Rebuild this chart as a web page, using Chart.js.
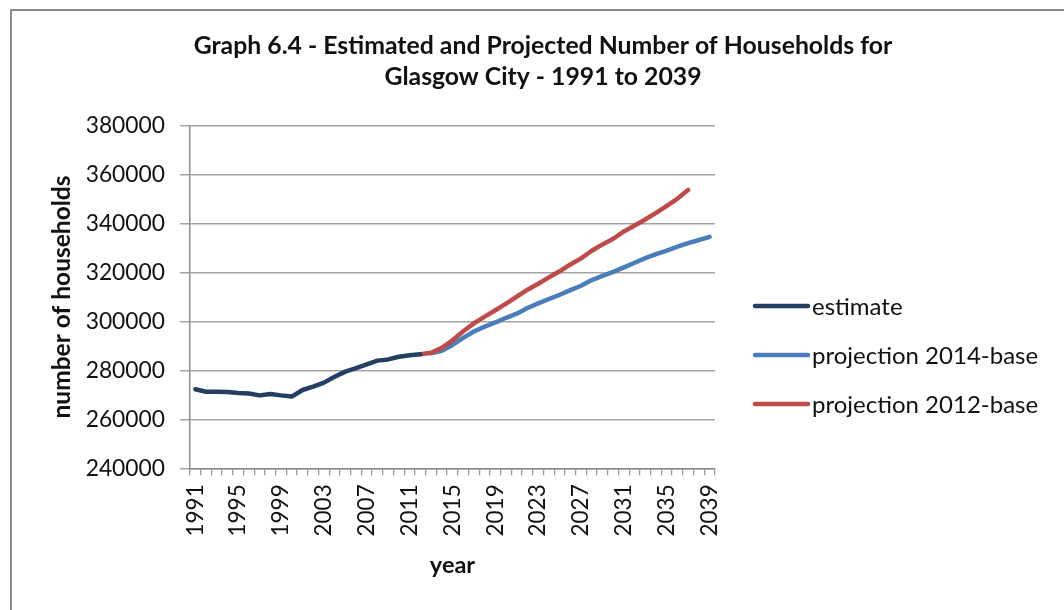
<!DOCTYPE html>
<html>
<head>
<meta charset="utf-8">
<script src="https://cdn.jsdelivr.net/npm/chart.js@4.4.1/dist/chart.umd.min.js"></script>
<style>
  html, body { margin: 0; padding: 0; background: #fff; overflow: hidden; }
  #frame {
    position: absolute; left: 10px; top: 9px;
    width: 1062px; height: 599px;
    border-left: 2px solid #8a8a8a; border-top: 2px solid #8a8a8a;
  }
  #frame canvas { display: block; }
</style>
</head>
<body>
<div id="frame"><canvas id="chart" width="1062" height="599"></canvas></div>
<script>
// Years on the category axis
const years = [
  1991, 1992, 1993, 1994, 1995, 1996, 1997, 1998, 1999, 2000,
  2001, 2002, 2003, 2004, 2005, 2006, 2007, 2008, 2009, 2010,
  2011, 2012, 2013, 2014, 2015, 2016, 2017, 2018, 2019, 2020,
  2021, 2022, 2023, 2024, 2025, 2026, 2027, 2028, 2029, 2030,
  2031, 2032, 2033, 2034, 2035, 2036, 2037, 2038, 2039
];

// Household estimates, 1991-2012
const estimateStart = 1991;
const estimate = [
  272300, 271300, 271300, 271200, 270800, 270600, 269800, 270400, 269800, 269300,
  272000, 273400, 275000, 277400, 279500, 280900, 282500, 284000, 284500, 285600,
  286200, 286600
];

// 2014-based projection, 2013-2039
const proj2014Start = 2013;
const proj2014 = [
  287000, 288000, 290400, 293300, 295900, 297900, 299600, 301500, 303200, 305500,
  307400, 309200, 310900, 312800, 314600, 316900, 318600, 320300, 322100, 324000,
  325900, 327500, 329000, 330600, 332000, 333300, 334600
];

// 2012-based projection, 2012-2037
const proj2012Start = 2012;
const proj2012 = [
  286600, 287200, 289200, 292300, 296000, 299200, 302000, 304600, 307300, 310200,
  313000, 315400, 318000, 320500, 323300, 325800, 328900, 331500, 333800, 336800,
  339200, 341700, 344400, 347200, 350200, 353800
];

// Value axis ticks
const yTicks = [240000, 260000, 280000, 300000, 320000, 340000, 360000, 380000];

// Place a series on the full year axis, leaving gaps outside its range
function onYearAxis(startYear, values) {
  return years.map(y => {
    const i = y - startYear;
    return (i >= 0 && i < values.length) ? values[i] : null;
  });
}

const FONT = 'Lato, "Open Sans", sans-serif';
const TEXT = '#111111';

// Legend drawn to the right of the plot, one line sample per series
const sideLegend = {
  id: 'sideLegend',
  afterDraw(chart) {
    const ctx = chart.ctx;
    const x0 = 743, x1 = 796, top = 295, step = 49;
    ctx.save();
    ctx.font = '24px ' + FONT;
    ctx.textBaseline = 'middle';
    ctx.textAlign = 'left';
    chart.data.datasets.forEach((ds, i) => {
      const y = top + i * step;
      ctx.beginPath();
      ctx.lineCap = 'round';
      ctx.lineWidth = ds.borderWidth;
      ctx.strokeStyle = ds.borderColor;
      ctx.moveTo(x0, y);
      ctx.lineTo(x1, y);
      ctx.stroke();
      ctx.fillStyle = TEXT;
      ctx.fillText(ds.label, x1 + 4, y + 1);
    });
    ctx.restore();
  }
};

new Chart(document.getElementById('chart'), {
  type: 'line',
  data: {
    labels: years,
    datasets: [
      {
        label: 'estimate',
        data: onYearAxis(estimateStart, estimate),
        borderColor: '#243f62',
        borderWidth: 4.5,
        order: 0
      },
      {
        label: 'projection 2014-base',
        data: onYearAxis(proj2014Start, proj2014),
        borderColor: '#4a7ebb',
        borderWidth: 4.5,
        order: 2
      },
      {
        label: 'projection 2012-base',
        data: onYearAxis(proj2012Start, proj2012),
        borderColor: '#be4b48',
        borderWidth: 4.5,
        order: 1
      }
    ]
  },
  options: {
    responsive: false,
    animation: false,
    events: [],
    elements: {
      point: { radius: 0 },
      line: { tension: 0, borderCapStyle: 'round', borderJoinStyle: 'round', fill: false }
    },
    layout: { padding: 0 },
    plugins: {
      legend: { display: false },
      tooltip: { enabled: false },
      title: {
        display: true,
        text: ['Graph 6.4 - Estimated and Projected Number of Households for',
               'Glasgow City - 1991 to 2039'],
        color: TEXT,
        font: { family: FONT, size: 24.8, weight: 'bold', lineHeight: 31 / 24.8 },
        padding: { top: 19.5, bottom: 33.2 }
      }
    },
    scales: {
      x: {
        offset: true,
        grid: {
          offset: true,
          drawOnChartArea: false,
          drawTicks: true,
          tickLength: 7,
          color: '#9a9a9a',
          lineWidth: 1.3
        },
        border: { color: '#8c8c8c', width: 1.5 },
        ticks: {
          autoSkip: false,
          maxRotation: 90,
          minRotation: 90,
          padding: 9,
          color: TEXT,
          font: { family: FONT, size: 22.5 },
          callback(value, index) {
            return index % 4 === 0 ? String(this.getLabelForValue(value)) : '';
          }
        },
        title: {
          display: true,
          text: 'year',
          color: TEXT,
          font: { family: FONT, size: 23.5, weight: 'bold' },
          padding: { top: 4, bottom: 30 }
        },
        afterFit(scale) { scale.height = 141.7; }
      },
      y: {
        min: yTicks[0],
        max: yTicks[yTicks.length - 1],
        afterBuildTicks(scale) { scale.ticks = yTicks.map(v => ({ value: v })); },
        grid: {
          color: '#a3a3a3',
          lineWidth: 1.5,
          drawTicks: true,
          tickLength: 10
        },
        border: { color: '#8c8c8c', width: 1.5 },
        ticks: {
          padding: 15,
          color: TEXT,
          font: { family: FONT, size: 22.8 },
          callback(value) { return String(value); }
        },
        title: {
          display: true,
          text: 'number of households',
          color: TEXT,
          font: { family: FONT, size: 24.5, weight: 'bold' },
          padding: { top: 35, bottom: 0 }
        },
        afterFit(scale) { scale.width = 178; }
      },
      // empty right-hand band that holds the legend
      legendSpace: {
        type: 'linear',
        position: 'right',
        display: true,
        grid: { display: false },
        border: { display: false },
        ticks: { display: false },
        afterFit(scale) { scale.width = 359; }
      }
    }
  },
  plugins: [sideLegend]
});
</script>
</body>
</html>
